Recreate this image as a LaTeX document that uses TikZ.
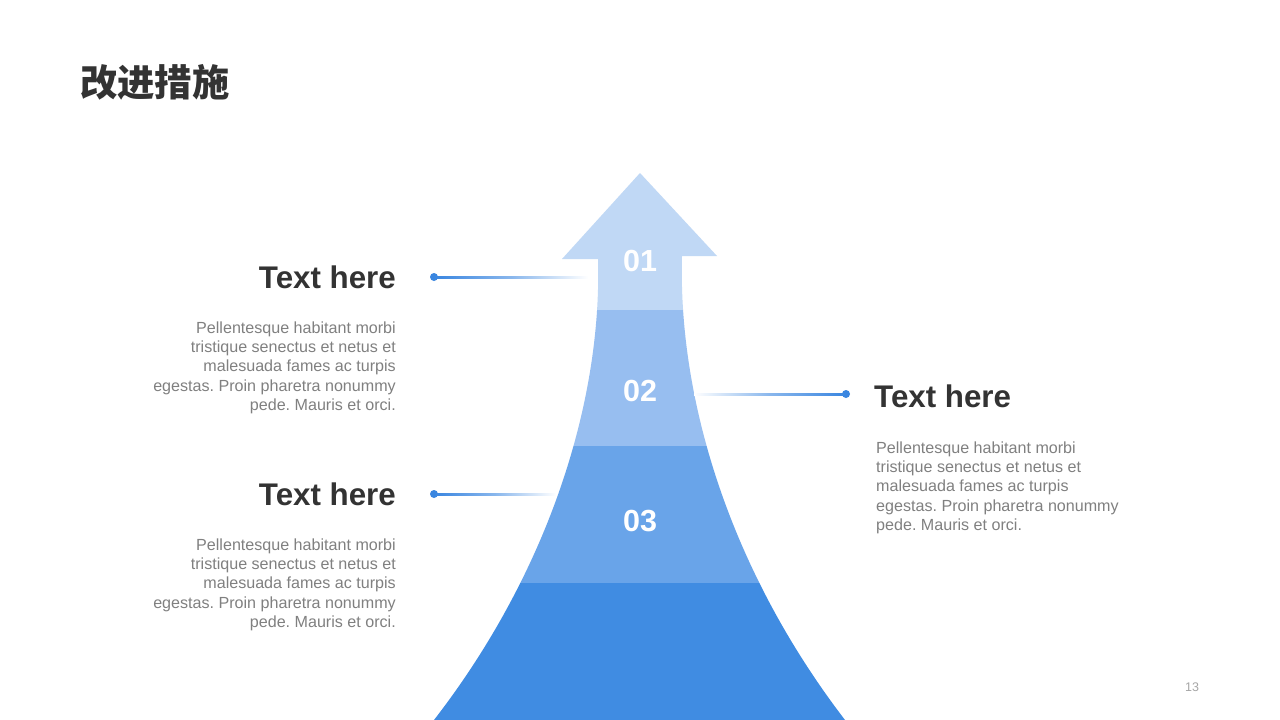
\documentclass[tikz,border=0pt]{standalone}
\usepackage{fontspec}
\setmainfont{Liberation Sans}
\newfontfamily\cjk{Noto Sans CJK SC}
\usetikzlibrary{calc}
\frenchspacing
\definecolor{bandA}{HTML}{C0D8F5}
\definecolor{bandB}{HTML}{97BEF0}
\definecolor{bandC}{HTML}{69A4E9}
\definecolor{bandD}{HTML}{408CE2}
\definecolor{lineblue}{HTML}{3A86E0}
\definecolor{headgray}{HTML}{333333}
\definecolor{bodygray}{HTML}{808080}
\definecolor{pagegray}{HTML}{A6A6A6}
\tikzset{
  heading/.style={inner sep=0pt, text=headgray, font={\fontsize{31.3}{36}\selectfont\bfseries}},
  bodytext/.style={inner sep=0pt, text=bodygray, font={\fontsize{16.1}{19.3}\selectfont\frenchspacing}},
  stepnum/.style={inner sep=0pt, text=white, font={\fontsize{30.5}{36}\selectfont\bfseries}},
  dotmark/.style={circle, fill=lineblue, inner sep=0pt, minimum size=8pt},
}
\begin{document}
\begin{tikzpicture}[x=1pt,y=-1pt]
\fill[white] (0,0) rectangle (1280,720);
\useasboundingbox (0,0) rectangle (1280,720);

% title
\node[anchor=west, inner sep=0pt, text=headgray, font={\cjk\fontsize{37.3}{44}\selectfont\bfseries}] (title) at (80,82) {改进措施};

% arrow
\begin{scope}
\clip (640,173) -- (717,256) -- (682,256)
  .. controls (678,400) and (730,570) .. (845,720)
  -- (434,720)
  .. controls (550,570) and (602,400) .. (598,259)
  -- (562,259) -- cycle;
\fill[bandA] (400,160) rectangle (880,310);
\fill[bandB] (400,310) rectangle (880,446);
\fill[bandC] (400,446) rectangle (880,583);
\fill[bandD] (400,583) rectangle (880,725);
\end{scope}

\node[stepnum] (n1) at (640,261) {01};
\node[stepnum] (n2) at (640,391) {02};
\node[stepnum] (n3) at (640,521) {03};

% connectors
\node[dotmark] (d1) at (434,277) {};
\coordinate (e1) at (588,277);
\shade[left color=lineblue, right color=white, middle color=lineblue!60] ($(d1.center)+(0,-1)$) rectangle ($(e1)+(0,1)$);

\node[dotmark] (d2) at (846,394) {};
\coordinate (e2) at (694,394);
\shade[left color=white, right color=lineblue, middle color=lineblue!60] ($(e2)+(0,-1)$) rectangle ($(d2.center)+(0,1)$);

\node[dotmark] (d3) at (434,494) {};
\coordinate (e3) at (556,494);
\shade[left color=lineblue, right color=white, middle color=lineblue!60] ($(d3.center)+(0,-1)$) rectangle ($(e3)+(0,1)$);

% left group 1
\node[heading, anchor=base east] (h1) at (396,288.3) {Text here};
\node[bodytext, anchor=north east, align=right] (b1) at (396,321.5) {Pellentesque habitant morbi\\tristique senectus et netus et\\malesuada fames ac turpis\\egestas. Proin pharetra nonummy\\pede. Mauris et orci.};

% right group
\node[heading, anchor=base west] (h2) at (874,407.3) {Text here};
\node[bodytext, anchor=north west, align=left] (b2) at (876,441.5) {Pellentesque habitant morbi\\tristique senectus et netus et\\malesuada fames ac turpis\\egestas. Proin pharetra nonummy\\pede. Mauris et orci.};

% left group 2
\node[heading, anchor=base east] (h3) at (396,505.3) {Text here};
\node[bodytext, anchor=north east, align=right] (b3) at (396,538.5) {Pellentesque habitant morbi\\tristique senectus et netus et\\malesuada fames ac turpis\\egestas. Proin pharetra nonummy\\pede. Mauris et orci.};

% page number
\node[inner sep=0pt, text=pagegray, font={\fontsize{12.5}{14}\selectfont}] (pg) at (1192,687) {13};
\end{tikzpicture}
\end{document}
